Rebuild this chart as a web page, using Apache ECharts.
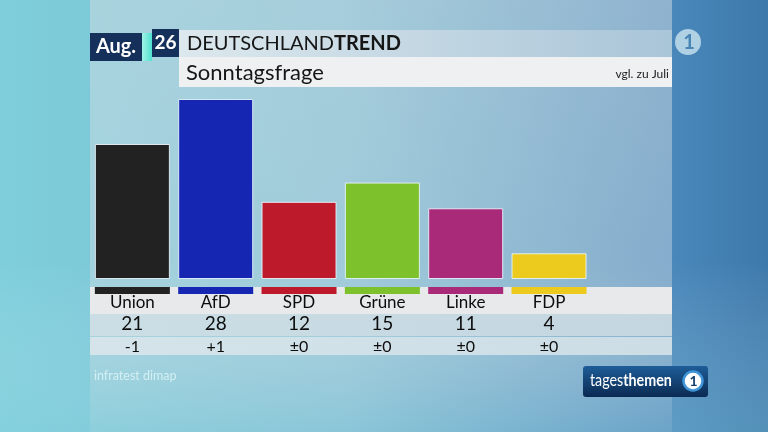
<!DOCTYPE html>
<html>
<head>
<meta charset="utf-8">
<script src="https://cdn.jsdelivr.net/npm/echarts@6/dist/echarts.min.js"></script>
<style>
  html, body { margin: 0; padding: 0; }
  #chart { width: 768px; height: 432px; }
</style>
</head>
<body>
<div id="chart"></div>
<script>
// Sonntagsfrage, Deutschlandtrend August
var parties = ['Union', 'AfD', 'SPD', 'Grüne', 'Linke', 'FDP'];
var shares = [21, 28, 12, 15, 11, 4];
var changes = ['-1', '+1', '±0', '±0', '±0', '±0'];
var partyColors = ['#222222', '#1526b3', '#bd1a2b', '#7dc22d', '#aa2a7a', '#edcb1e'];

var FONT = 'Lato, "Noto Sans", sans-serif';

(function() {
  var myChart = echarts.init(document.getElementById('chart'));

  var option = {
    animation: false,
    textStyle: { fontFamily: FONT },
    grid: [
      { left: 90.7, width: 500, top: 99, height: 180, outerBoundsMode: 'none', containLabel: false },
      { left: 90.7, width: 500, top: 287, height: 7, outerBoundsMode: 'none', containLabel: false }
    ],
    xAxis: [
      {
        type: 'category',
        gridIndex: 0,
        data: parties,
        z: 5,
        axisLine: { show: false },
        axisTick: { show: false },
        splitLine: { show: false },
        axisLabel: {
          margin: 15,
          interval: 0,
          formatter: function(v, i) {
            return '{n|' + v + '}\n{v|' + shares[i] + '}\n{c|' + changes[i] + '}';
          },
          rich: {
            n: { fontSize: 17, lineHeight: 18, color: '#0d0d0d', fontFamily: FONT },
            v: { fontSize: 19, lineHeight: 24, color: '#0d0d0d', fontFamily: FONT },
            c: { fontSize: 16, lineHeight: 22, color: '#0d0d0d', fontFamily: FONT }
          }
        }
      },
      {
        type: 'category',
        gridIndex: 1,
        data: parties,
        show: false
      }
    ],
    yAxis: [
      { type: 'value', gridIndex: 0, min: 0, max: 28, show: false, splitLine: { show: false } },
      { type: 'value', gridIndex: 1, min: 0, max: 1, show: false, splitLine: { show: false } }
    ],
    series: [
      {
        type: 'bar',
        xAxisIndex: 0,
        yAxisIndex: 0,
        barCategoryGap: '10%',
        data: shares.map(function(v, i) {
          return { value: v, itemStyle: { color: partyColors[i] } };
        }),
        itemStyle: { borderColor: 'rgba(232,244,250,0.9)', borderWidth: 1 }
      },
      {
        type: 'bar',
        xAxisIndex: 1,
        yAxisIndex: 1,
        barCategoryGap: '10%',
        z: 6,
        data: parties.map(function(p, i) {
          return { value: 1, itemStyle: { color: partyColors[i] } };
        })
      }
    ],
    graphic: [
      // background
      {
        type: 'rect', z: -20, silent: true,
        shape: { x: 0, y: 0, width: 768, height: 432 },
        style: {
          fill: new echarts.graphic.LinearGradient(0, 0, 1, 0, [
            { offset: 0, color: '#7ecedb' },
            { offset: 0.45, color: '#78bcd3' },
            { offset: 0.87, color: '#4a88bb' },
            { offset: 1, color: '#3d79ab' }
          ])
        }
      },
      {
        type: 'rect', z: -19, silent: true,
        shape: { x: 0, y: 0, width: 768, height: 432 },
        style: {
          fill: new echarts.graphic.LinearGradient(0, 0, 0, 1, [
            { offset: 0, color: 'rgba(255,255,255,0)' },
            { offset: 0.6, color: 'rgba(255,255,255,0)' },
            { offset: 1, color: 'rgba(150,215,225,0.25)' }
          ])
        }
      },
      // light panel
      {
        type: 'rect', z: -18, silent: true,
        shape: { x: 90, y: 0, width: 582, height: 432 },
        style: {
          fill: new echarts.graphic.LinearGradient(0, 0, 0, 1, [
            { offset: 0, color: 'rgba(212,222,227,0.5)' },
            { offset: 0.8, color: 'rgba(212,222,227,0.4)' },
            { offset: 1, color: 'rgba(212,222,227,0.12)' }
          ])
        }
      },
      // table rows
      {
        type: 'rect', z: 1, silent: true,
        shape: { x: 90, y: 287, width: 582, height: 27 },
        style: { fill: '#e8e9ea' }
      },
      {
        type: 'rect', z: 1, silent: true,
        shape: { x: 90, y: 314, width: 582, height: 22 },
        style: {
          fill: new echarts.graphic.LinearGradient(0, 0, 1, 0, [
            { offset: 0, color: '#cbdee5' },
            { offset: 1, color: '#c4d6e0' }
          ])
        }
      },
      {
        type: 'rect', z: 1, silent: true,
        shape: { x: 90, y: 337, width: 582, height: 18 },
        style: {
          fill: new echarts.graphic.LinearGradient(0, 0, 1, 0, [
            { offset: 0, color: '#d4e4ea' },
            { offset: 1, color: '#cddde6' }
          ])
        }
      },
      // header
      {
        type: 'rect', z: 1, silent: true,
        shape: { x: 90, y: 33, width: 52, height: 28 },
        style: { fill: '#15315b' }
      },
      {
        type: 'text', z: 3, silent: true,
        style: { x: 116, y: 47, text: 'Aug.', fill: '#fff', fontSize: 20, fontWeight: 'bold', fontFamily: FONT, align: 'center', verticalAlign: 'middle' }
      },
      {
        type: 'rect', z: 1, silent: true,
        shape: { x: 142, y: 33, width: 10, height: 28 },
        style: {
          fill: new echarts.graphic.LinearGradient(0, 0, 1, 0, [
            { offset: 0, color: '#a0f2e6' },
            { offset: 1, color: '#4fe0d0' }
          ])
        }
      },
      {
        type: 'rect', z: 1, silent: true,
        shape: { x: 152, y: 29, width: 27, height: 28 },
        style: { fill: '#15315b' }
      },
      {
        type: 'text', z: 3, silent: true,
        style: { x: 165.5, y: 43, text: '26', fill: '#fff', fontSize: 19, fontWeight: 'bold', fontFamily: FONT, align: 'center', verticalAlign: 'middle' }
      },
      {
        type: 'rect', z: 1, silent: true,
        shape: { x: 179, y: 30, width: 493, height: 27 },
        style: {
          fill: new echarts.graphic.LinearGradient(0, 0, 1, 0, [
            { offset: 0, color: '#dce8ed' },
            { offset: 1, color: '#a9c5d8' }
          ])
        }
      },
      {
        type: 'rect', z: 1, silent: true,
        shape: { x: 179, y: 57, width: 493, height: 30 },
        style: { fill: '#eef0f1' }
      },
      {
        type: 'text', z: 3, silent: true,
        style: {
          x: 187, y: 44, text: '{a|DEUTSCHLAND}{b|TREND}', verticalAlign: 'middle',
          rich: {
            a: { fontSize: 20, fill: '#161616', fontFamily: FONT },
            b: { fontSize: 20, fill: '#161616', fontWeight: 'bold', fontFamily: FONT }
          }
        }
      },
      {
        type: 'text', z: 3, silent: true,
        style: { x: 186, y: 73, text: 'Sonntagsfrage', fill: '#161616', fontSize: 22, fontFamily: FONT, verticalAlign: 'middle' }
      },
      {
        type: 'text', z: 3, silent: true,
        style: { x: 669, y: 74, text: 'vgl. zu Juli', fill: '#222', fontSize: 12, fontFamily: FONT, align: 'right', verticalAlign: 'middle' }
      },
      // ARD logo
      {
        type: 'circle', z: 3, silent: true,
        shape: { cx: 688, cy: 42, r: 13 },
        style: { fill: '#b0d0e4' }
      },
      {
        type: 'text', z: 4, silent: true,
        style: { x: 689, y: 43, text: '1', fill: '#4a86b4', fontSize: 20, fontWeight: 'bold', fontFamily: FONT, align: 'center', verticalAlign: 'middle' }
      },
      // source
      {
        type: 'text', z: 3, silent: true,
        style: { x: 94, y: 376, text: 'infratest dimap', fill: '#d4eff3', fontSize: 12.5, fontFamily: FONT, verticalAlign: 'middle' }
      },
      // tagesthemen
      {
        type: 'rect', z: 3, silent: true,
        shape: { x: 583, y: 366, width: 125, height: 31, r: 3 },
        style: {
          fill: new echarts.graphic.LinearGradient(0, 0, 0, 1, [
            { offset: 0, color: '#1e5d98' },
            { offset: 1, color: '#0b2a52' }
          ])
        }
      },
      {
        type: 'text', z: 4, silent: true,
        x: 590, y: 381, scaleX: 0.84,
        style: {
          x: 0, y: 0, text: '{a|tages}{b|themen}', verticalAlign: 'middle',
          rich: {
            a: { fontSize: 17, fill: '#fff', fontFamily: FONT },
            b: { fontSize: 17, fill: '#fff', fontWeight: 'bold', fontFamily: FONT }
          }
        }
      },
      {
        type: 'circle', z: 4, silent: true,
        shape: { cx: 693, cy: 381, r: 9.5 },
        style: { fill: '#fff', stroke: '#3f95d8', lineWidth: 2.5 }
      },
      {
        type: 'text', z: 5, silent: true,
        style: { x: 693.5, y: 381.5, text: '1', fill: '#123d6e', fontSize: 14, fontWeight: 'bold', fontFamily: FONT, align: 'center', verticalAlign: 'middle' }
      }
    ]
  };

  myChart.setOption(option);
  window.addEventListener('resize', function() {
    myChart.resize();
  });
})();
</script>
</body>
</html>
